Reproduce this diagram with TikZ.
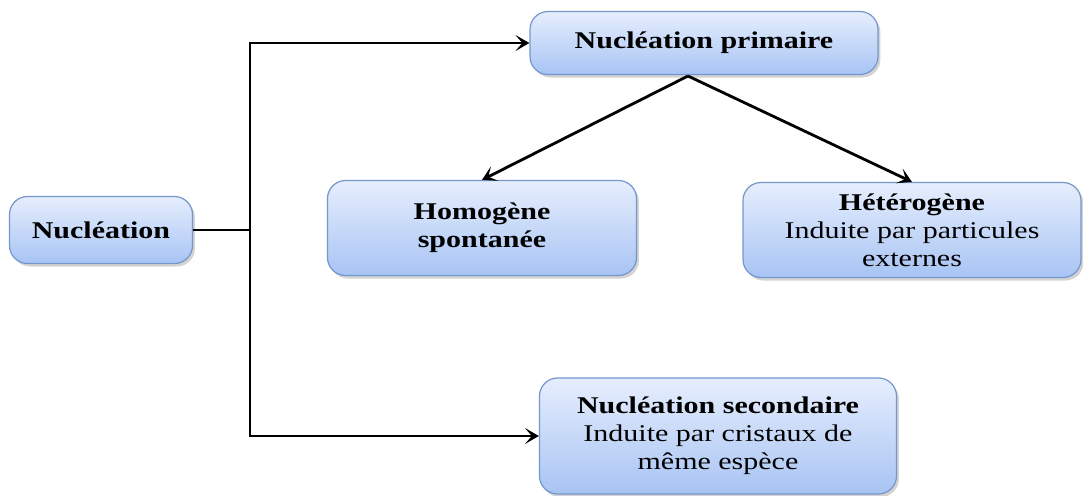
\documentclass[tikz,border=0pt]{standalone}
\usepackage{fontspec}
\setmainfont{Liberation Serif}[FakeStretch=1.25]
\usetikzlibrary{shadows,arrows.meta}
\tikzset{>={Stealth[length=7pt,width=8pt,inset=3.5pt]}}
\definecolor{boxtop}{HTML}{E6EEFD}
\definecolor{boxbot}{HTML}{A8C4F4}
\definecolor{boxline}{HTML}{7497CB}
\tikzset{
  box/.style={rounded corners=9pt, draw=boxline, line width=0.6pt,
    top color=boxtop, bottom color=boxbot, align=center, inner sep=0pt,
    font=\fontsize{12}{14}\selectfont,
    drop shadow={opacity=0.35, shadow xshift=1.2pt, shadow yshift=-1.5pt}},
  link/.style={line width=1.4pt}
}

\begin{document}
\begin{tikzpicture}[x=0.5pt,y=-0.5pt]
    \useasboundingbox (0,0) rectangle (1083,495);
    % boxes
    \node[box, minimum width=91.5pt, minimum height=33.5pt] (nuc) at (101,230) {\textbf{Nucléation}};
    \node[box, minimum width=174pt, minimum height=31.5pt] (prim) at (704,43) {\textbf{Nucléation primaire}};
    \node[box, minimum width=154.5pt, minimum height=47.5pt] (homo) at (482,228) {\textbf{Homogène}\\\textbf{spontanée}};
    \node[box, minimum width=169pt, minimum height=47.5pt] (hete) at (912,230) {\textbf{Hétérogène}\\Induite par particules\\externes};
    \node[box, minimum width=178.5pt, minimum height=58pt] (sec) at (718,436) {\textbf{Nucléation secondaire}\\Induite par cristaux de\\même espèce};
    % connectors
    \coordinate (split) at (250,230);
    \coordinate (fork) at (688,76);
    \draw[link] (nuc.east) -- (split);
    \draw[link,->] (split) |- (prim.west);
    \draw[link,->] (split) |- (sec.west);
    \draw[link,->] (fork) -- (homo.north);
    \draw[link,->] (fork) -- (hete.north);
\end{tikzpicture}
\end{document}
